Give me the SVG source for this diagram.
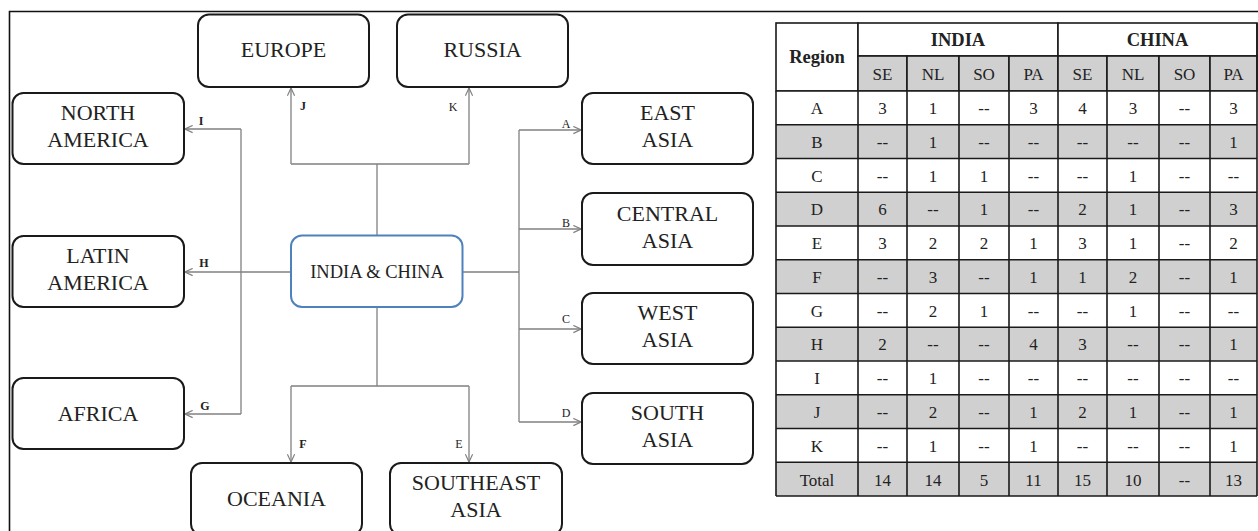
<svg xmlns="http://www.w3.org/2000/svg" width="1258" height="531" viewBox="0 0 1258 531" font-family="'Liberation Serif', 'DejaVu Serif', serif">
<style>
text{font-family:'Liberation Serif','DejaVu Serif',serif}
.node{fill:#fff;stroke:#1a1a1a;stroke-width:2}
.center{fill:#fff;stroke:#4f81bd;stroke-width:2}
.nt{font-size:22px;fill:#222;text-anchor:middle}
.ct{font-size:18.5px;fill:#222;text-anchor:middle}
.conn{fill:none;stroke:#808080;stroke-width:1.3}
.lbl{font-size:12px;fill:#222;text-anchor:middle}
.b{font-weight:bold}
.cell{stroke:#1a1a1a;stroke-width:1.6}
.w{fill:#fff}
.g{fill:#d0d0d0}
.tt{font-size:17px;fill:#222;text-anchor:middle}
.th{font-size:18.5px;font-weight:bold;fill:#222;text-anchor:middle}
</style>
<defs>
<marker id="arr" viewBox="0 0 10 10" refX="9.5" refY="5" markerWidth="9" markerHeight="9" markerUnits="userSpaceOnUse" orient="auto">
<path d="M1,1 L9.5,5 L1,9" fill="none" stroke="#808080" stroke-width="1.3"/>
</marker>
</defs>
<rect width="1258" height="531" fill="#fff"/>
<path d="M9.5,531 V11.5 H1258" fill="none" stroke="#111" stroke-width="1.6"/>

<g id="connectors">
<path class="conn" d="M377,235 V164 M291,164 H469 M519,130 V422 M241,129 V414 M377,307 V386 M291,386 H469 M463,272 H519"/>
<path class="conn" d="M291,164 V88" marker-end="url(#arr)"/>
<path class="conn" d="M469,164 V88" marker-end="url(#arr)"/>
<path class="conn" d="M241,129 H185" marker-end="url(#arr)"/>
<path class="conn" d="M291,272 H185" marker-end="url(#arr)"/>
<path class="conn" d="M241,414 H185" marker-end="url(#arr)"/>
<path class="conn" d="M519,130 H581" marker-end="url(#arr)"/>
<path class="conn" d="M519,229 H581" marker-end="url(#arr)"/>
<path class="conn" d="M519,329 H581" marker-end="url(#arr)"/>
<path class="conn" d="M519,422 H581" marker-end="url(#arr)"/>
<path class="conn" d="M291,386 V462" marker-end="url(#arr)"/>
<path class="conn" d="M469,386 V462" marker-end="url(#arr)"/>
<text class="lbl b" x="303" y="110">J</text>
<text class="lbl" x="453" y="111">K</text>
<text class="lbl b" x="201" y="125">I</text>
<text class="lbl b" x="204" y="267">H</text>
<text class="lbl b" x="205" y="410">G</text>
<text class="lbl" x="566" y="128">A</text>
<text class="lbl" x="566" y="227">B</text>
<text class="lbl" x="566" y="323">C</text>
<text class="lbl" x="566" y="417">D</text>
<text class="lbl" x="459" y="448">E</text>
<text class="lbl b" x="303" y="448">F</text>
</g>

<g id="node-center"><rect class="center" x="291" y="235.5" width="171.5" height="71.5" rx="11"/><text class="ct" x="377" y="278">INDIA &amp; CHINA</text></g>
<g id="node-europe"><rect class="node" x="198" y="14.5" width="171" height="72.5" rx="11"/><text class="nt" x="283.5" y="57">EUROPE</text></g>
<g id="node-russia"><rect class="node" x="397" y="14.5" width="171" height="72.5" rx="11"/><text class="nt" x="482.5" y="57">RUSSIA</text></g>
<g id="node-north-america"><rect class="node" x="12.5" y="93" width="171.5" height="71" rx="11"/><text class="nt" x="98" y="120">NORTH</text><text class="nt" x="98" y="147">AMERICA</text></g>
<g id="node-latin-america"><rect class="node" x="12.5" y="236" width="171.5" height="71" rx="11"/><text class="nt" x="98" y="263">LATIN</text><text class="nt" x="98" y="290">AMERICA</text></g>
<g id="node-africa"><rect class="node" x="12.5" y="378" width="171.5" height="71" rx="11"/><text class="nt" x="98" y="421">AFRICA</text></g>
<g id="node-oceania"><rect class="node" x="191" y="463" width="171" height="72" rx="11"/><text class="nt" x="276.5" y="506">OCEANIA</text></g>
<g id="node-southeast-asia"><rect class="node" x="390" y="463" width="172" height="72" rx="11"/><text class="nt" x="476" y="490">SOUTHEAST</text><text class="nt" x="476" y="517">ASIA</text></g>
<g id="node-east-asia"><rect class="node" x="582" y="93" width="171" height="71" rx="11"/><text class="nt" x="667.5" y="120">EAST</text><text class="nt" x="667.5" y="147">ASIA</text></g>
<g id="node-central-asia"><rect class="node" x="582" y="193" width="171" height="72" rx="11"/><text class="nt" x="667.5" y="221">CENTRAL</text><text class="nt" x="667.5" y="248">ASIA</text></g>
<g id="node-west-asia"><rect class="node" x="582" y="293" width="171" height="71" rx="11"/><text class="nt" x="667.5" y="320">WEST</text><text class="nt" x="667.5" y="347">ASIA</text></g>
<g id="node-south-asia"><rect class="node" x="582" y="393" width="171" height="71" rx="11"/><text class="nt" x="667.5" y="420">SOUTH</text><text class="nt" x="667.5" y="447">ASIA</text></g>

<g id="table">
<rect class="cell w" x="776" y="23" width="82" height="68"/>
<rect class="cell w" x="858" y="23" width="200" height="33"/>
<rect class="cell w" x="1058" y="23" width="199" height="33"/>
<rect class="cell g" x="858" y="56" width="49" height="35"/>
<rect class="cell g" x="907" y="56" width="52" height="35"/>
<rect class="cell g" x="959" y="56" width="50" height="35"/>
<rect class="cell g" x="1009" y="56" width="49" height="35"/>
<rect class="cell g" x="1058" y="56" width="49" height="35"/>
<rect class="cell g" x="1107" y="56" width="52" height="35"/>
<rect class="cell g" x="1159" y="56" width="51" height="35"/>
<rect class="cell g" x="1210" y="56" width="47" height="35"/>
<text class="th" x="817" y="63">Region</text>
<text class="th" x="958" y="46">INDIA</text>
<text class="th" x="1157.5" y="46">CHINA</text>
<text class="tt" x="882.5" y="79.5">SE</text>
<text class="tt" x="933" y="79.5">NL</text>
<text class="tt" x="984" y="79.5">SO</text>
<text class="tt" x="1033.5" y="79.5">PA</text>
<text class="tt" x="1082.5" y="79.5">SE</text>
<text class="tt" x="1133" y="79.5">NL</text>
<text class="tt" x="1184.5" y="79.5">SO</text>
<text class="tt" x="1233.5" y="79.5">PA</text>
<rect class="w" x="776" y="91" width="481" height="33.75"/>
<rect class="g" x="776" y="124.75" width="481" height="33.75"/>
<rect class="w" x="776" y="158.5" width="481" height="33.75"/>
<rect class="g" x="776" y="192.25" width="481" height="33.75"/>
<rect class="w" x="776" y="226" width="481" height="33.75"/>
<rect class="g" x="776" y="259.75" width="481" height="33.75"/>
<rect class="w" x="776" y="293.5" width="481" height="33.75"/>
<rect class="g" x="776" y="327.25" width="481" height="33.75"/>
<rect class="w" x="776" y="361" width="481" height="33.75"/>
<rect class="g" x="776" y="394.75" width="481" height="33.75"/>
<rect class="w" x="776" y="428.5" width="481" height="33.75"/>
<rect class="g" x="776" y="462.25" width="481" height="33.75"/>
<path class="cell" fill="none" d="M776,91 H1257 M776,124.75 H1257 M776,158.5 H1257 M776,192.25 H1257 M776,226 H1257 M776,259.75 H1257 M776,293.5 H1257 M776,327.25 H1257 M776,361 H1257 M776,394.75 H1257 M776,428.5 H1257 M776,462.25 H1257 M776,496 H1257 M776,91 V496 M858,91 V496 M907,91 V496 M959,91 V496 M1009,91 V496 M1058,91 V496 M1107,91 V496 M1159,91 V496 M1210,91 V496 M1257,23 V496"/>
<g class="tt">
<text class="tt" x="817" y="113.5">A</text><text class="tt" x="882.5" y="113.5">3</text><text class="tt" x="933" y="113.5">1</text><text class="tt" x="984" y="113.5">--</text><text class="tt" x="1033.5" y="113.5">3</text><text class="tt" x="1082.5" y="113.5">4</text><text class="tt" x="1133" y="113.5">3</text><text class="tt" x="1184.5" y="113.5">--</text><text class="tt" x="1233.5" y="113.5">3</text>
<text class="tt" x="817" y="147.5">B</text><text class="tt" x="882.5" y="147.5">--</text><text class="tt" x="933" y="147.5">1</text><text class="tt" x="984" y="147.5">--</text><text class="tt" x="1033.5" y="147.5">--</text><text class="tt" x="1082.5" y="147.5">--</text><text class="tt" x="1133" y="147.5">--</text><text class="tt" x="1184.5" y="147.5">--</text><text class="tt" x="1233.5" y="147.5">1</text>
<text class="tt" x="817" y="181.5">C</text><text class="tt" x="882.5" y="181.5">--</text><text class="tt" x="933" y="181.5">1</text><text class="tt" x="984" y="181.5">1</text><text class="tt" x="1033.5" y="181.5">--</text><text class="tt" x="1082.5" y="181.5">--</text><text class="tt" x="1133" y="181.5">1</text><text class="tt" x="1184.5" y="181.5">--</text><text class="tt" x="1233.5" y="181.5">--</text>
<text class="tt" x="817" y="215">D</text><text class="tt" x="882.5" y="215">6</text><text class="tt" x="933" y="215">--</text><text class="tt" x="984" y="215">1</text><text class="tt" x="1033.5" y="215">--</text><text class="tt" x="1082.5" y="215">2</text><text class="tt" x="1133" y="215">1</text><text class="tt" x="1184.5" y="215">--</text><text class="tt" x="1233.5" y="215">3</text>
<text class="tt" x="817" y="248.5">E</text><text class="tt" x="882.5" y="248.5">3</text><text class="tt" x="933" y="248.5">2</text><text class="tt" x="984" y="248.5">2</text><text class="tt" x="1033.5" y="248.5">1</text><text class="tt" x="1082.5" y="248.5">3</text><text class="tt" x="1133" y="248.5">1</text><text class="tt" x="1184.5" y="248.5">--</text><text class="tt" x="1233.5" y="248.5">2</text>
<text class="tt" x="817" y="282.5">F</text><text class="tt" x="882.5" y="282.5">--</text><text class="tt" x="933" y="282.5">3</text><text class="tt" x="984" y="282.5">--</text><text class="tt" x="1033.5" y="282.5">1</text><text class="tt" x="1082.5" y="282.5">1</text><text class="tt" x="1133" y="282.5">2</text><text class="tt" x="1184.5" y="282.5">--</text><text class="tt" x="1233.5" y="282.5">1</text>
<text class="tt" x="817" y="316.5">G</text><text class="tt" x="882.5" y="316.5">--</text><text class="tt" x="933" y="316.5">2</text><text class="tt" x="984" y="316.5">1</text><text class="tt" x="1033.5" y="316.5">--</text><text class="tt" x="1082.5" y="316.5">--</text><text class="tt" x="1133" y="316.5">1</text><text class="tt" x="1184.5" y="316.5">--</text><text class="tt" x="1233.5" y="316.5">--</text>
<text class="tt" x="817" y="350">H</text><text class="tt" x="882.5" y="350">2</text><text class="tt" x="933" y="350">--</text><text class="tt" x="984" y="350">--</text><text class="tt" x="1033.5" y="350">4</text><text class="tt" x="1082.5" y="350">3</text><text class="tt" x="1133" y="350">--</text><text class="tt" x="1184.5" y="350">--</text><text class="tt" x="1233.5" y="350">1</text>
<text class="tt" x="817" y="384">I</text><text class="tt" x="882.5" y="384">--</text><text class="tt" x="933" y="384">1</text><text class="tt" x="984" y="384">--</text><text class="tt" x="1033.5" y="384">--</text><text class="tt" x="1082.5" y="384">--</text><text class="tt" x="1133" y="384">--</text><text class="tt" x="1184.5" y="384">--</text><text class="tt" x="1233.5" y="384">--</text>
<text class="tt" x="817" y="417.5">J</text><text class="tt" x="882.5" y="417.5">--</text><text class="tt" x="933" y="417.5">2</text><text class="tt" x="984" y="417.5">--</text><text class="tt" x="1033.5" y="417.5">1</text><text class="tt" x="1082.5" y="417.5">2</text><text class="tt" x="1133" y="417.5">1</text><text class="tt" x="1184.5" y="417.5">--</text><text class="tt" x="1233.5" y="417.5">1</text>
<text class="tt" x="817" y="451.5">K</text><text class="tt" x="882.5" y="451.5">--</text><text class="tt" x="933" y="451.5">1</text><text class="tt" x="984" y="451.5">--</text><text class="tt" x="1033.5" y="451.5">1</text><text class="tt" x="1082.5" y="451.5">--</text><text class="tt" x="1133" y="451.5">--</text><text class="tt" x="1184.5" y="451.5">--</text><text class="tt" x="1233.5" y="451.5">1</text>
<text class="tt" x="817" y="485.5">Total</text><text class="tt" x="882.5" y="485.5">14</text><text class="tt" x="933" y="485.5">14</text><text class="tt" x="984" y="485.5">5</text><text class="tt" x="1033.5" y="485.5">11</text><text class="tt" x="1082.5" y="485.5">15</text><text class="tt" x="1133" y="485.5">10</text><text class="tt" x="1184.5" y="485.5">--</text><text class="tt" x="1233.5" y="485.5">13</text>
</g>
</g>
</svg>
